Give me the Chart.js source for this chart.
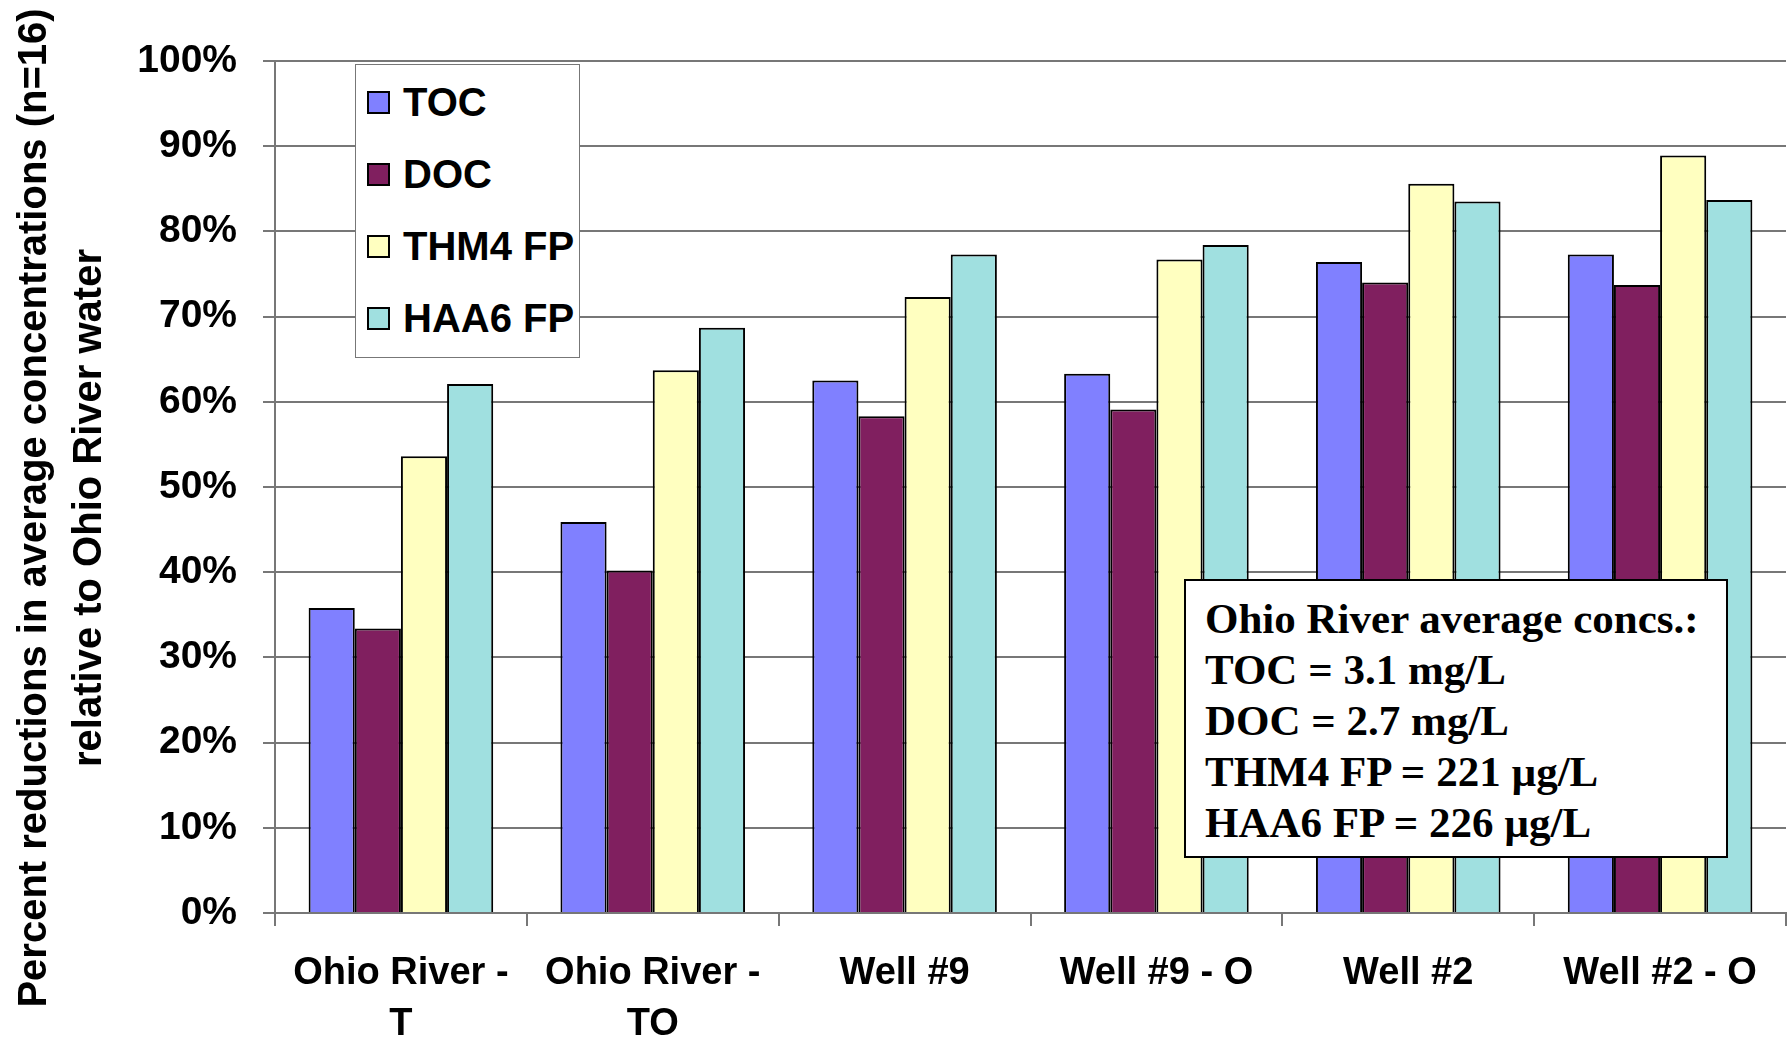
<!DOCTYPE html>
<html>
<head>
<meta charset="utf-8">
<script src="https://cdn.jsdelivr.net/npm/chart.js@4.4.1/dist/chart.umd.min.js"></script>
<style>
  body { margin: 0; background: #fff; }
  #wrap { position: relative; width: 1788px; height: 1042px; }
  #legend {
    position: absolute; left: 355px; top: 64px; width: 223px; height: 291px;
    border: 1px solid #777; background: #fff; padding-top: 1px; box-sizing: content-box;
    font: bold 40px 'Liberation Sans', Arial, sans-serif; color: #000;
  }
  #legend .row { height: 72px; display: flex; align-items: center; }
  #legend .sw { width: 19px; height: 19px; border: 2px solid #000; margin-left: 11px; margin-right: 13px; }
  #note {
    position: absolute; left: 1184px; top: 579px; width: 544px; height: 279px;
    border: 2px solid #000; background: #fff; padding: 12px 0 0 19px; box-sizing: border-box;
    font: bold 43px 'Liberation Serif', 'Times New Roman', serif; line-height: 51px; color: #000;
  }
</style>
</head>
<body>
<div id="wrap">
  <canvas id="chart" width="1788" height="1042"></canvas>
  <div id="legend"></div>
  <div id="note"></div>
</div>
<script>
const categories = [['Ohio River -', 'T'], ['Ohio River -', 'TO'], 'Well #9', 'Well #9 - O', 'Well #2', 'Well #2 - O'];
const seriesNames = ['TOC', 'DOC', 'THM4 FP', 'HAA6 FP'];
const seriesColors = ['#8080FF', '#801F5F', '#FFFFC0', '#A0E0E0'];
const tocValues = [35.8, 45.9, 62.5, 63.3, 76.4, 77.3];
const docValues = [33.4, 40.2, 58.3, 59.1, 74.0, 73.7];
const thm4Values = [53.6, 63.7, 72.3, 76.7, 85.6, 88.9];
const haa6Values = [62.1, 68.7, 77.3, 78.4, 83.5, 83.7];
const yTicks = [0, 10, 20, 30, 40, 50, 60, 70, 80, 90, 100];
const yTitle = ['Percent reductions in average concentrations (n=16)', 'relative to Ohio River water'];
const noteLines = ['Ohio River average concs.:', 'TOC = 3.1 mg/L', 'DOC = 2.7 mg/L',
  'THM4 FP = 221 µg/L', 'HAA6 FP = 226 µg/L'];

const GRID = '#777';
const SANS = "'Liberation Sans', Arial, sans-serif";

const allValues = [tocValues, docValues, thm4Values, haa6Values];
const datasets = seriesNames.map((name, i) => ({
  label: name,
  data: allValues[i],
  backgroundColor: seriesColors[i],
  borderColor: '#000',
  borderWidth: 2,
  categoryPercentage: 0.733,
  barPercentage: 1.0,
}));

// y title drawn by hand so it sits a bit below the axis middle, like the original
const yTitlePlugin = {
  id: 'yTitle',
  afterDraw(chart) {
    const ctx = chart.ctx;
    ctx.save();
    ctx.fillStyle = '#000';
    ctx.font = `bold 40px ${SANS}`;
    ctx.textAlign = 'center';
    ctx.textBaseline = 'middle';
    ctx.translate(0, 508);
    ctx.rotate(-Math.PI / 2);
    ctx.fillText(yTitle[0], 0, 35);
    ctx.fillText(yTitle[1], 0, 90);
    ctx.restore();
  }
};

new Chart(document.getElementById('chart'), {
  type: 'bar',
  data: { labels: categories, datasets },
  plugins: [yTitlePlugin],
  options: {
    responsive: false,
    animation: false,
    layout: { padding: { top: 61, right: 2, left: 0, bottom: 0 } },
    plugins: { legend: { display: false }, tooltip: { enabled: false } },
    scales: {
      x: {
        afterFit: s => { s.height = 129; },
        grid: { offset: true, drawOnChartArea: false, color: GRID, lineWidth: 2, tickLength: 13 },
        border: { color: GRID, width: 2 },
        ticks: { color: '#000', padding: 22, maxRotation: 0, autoSkip: false,
          font: { family: SANS, size: 38, weight: 'bold', lineHeight: 1.34 } }
      },
      y: {
        min: 0, max: 100,
        afterFit: s => { s.width = 275; },
        afterBuildTicks: s => { s.ticks = yTicks.map(v => ({ value: v })); },
        grid: { color: GRID, lineWidth: 2, tickLength: 12 },
        border: { color: GRID, width: 2 },
        ticks: { color: '#000', padding: 26, callback: v => v + '%',
          font: { family: SANS, size: 39, weight: 'bold' } }
      }
    }
  }
});

const legendEl = document.getElementById('legend');
seriesNames.forEach((name, i) => {
  const row = document.createElement('div');
  row.className = 'row';
  row.innerHTML = `<span class="sw" style="background:${seriesColors[i]}"></span><span>${name}</span>`;
  legendEl.appendChild(row);
});
document.getElementById('note').innerHTML = noteLines.map(l => `<div>${l}</div>`).join('');
</script>
</body>
</html>
